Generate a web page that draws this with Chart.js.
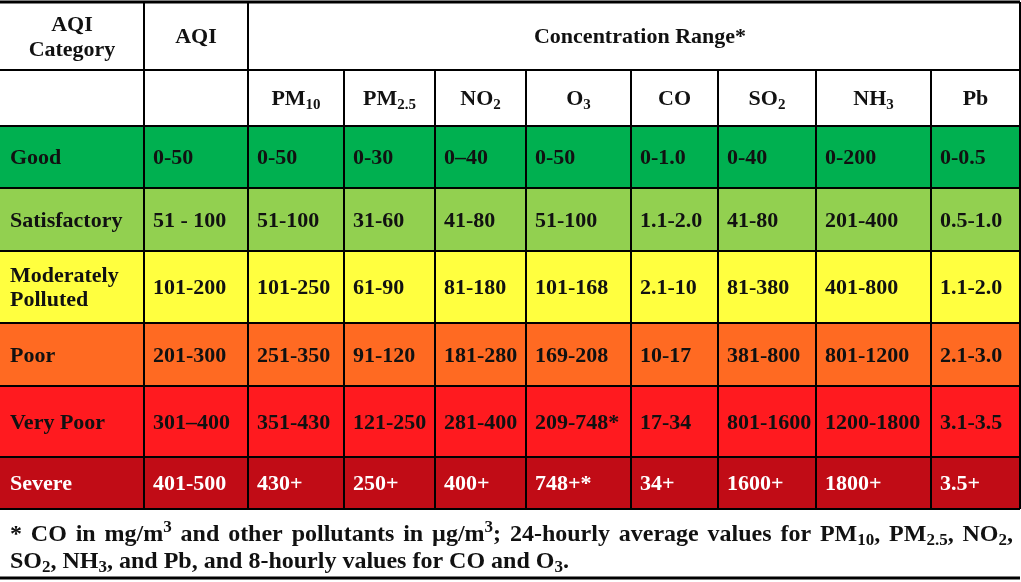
<!DOCTYPE html>
<html>
<head>
<meta charset="utf-8">
<script src="https://cdn.jsdelivr.net/npm/chart.js@4.4.1/dist/chart.umd.min.js"></script>
<style>
  body { margin: 0; background: #fff; }
  #aqiTable { display: block; }
</style>
</head>
<body>
<canvas id="aqiTable" width="1021" height="582"></canvas>
<script>
// table content
var categories = ['Good', 'Satisfactory', 'Moderately\nPolluted', 'Poor', 'Very Poor', 'Severe'];
var aqiRanges = ['0-50', '51 - 100', '101-200', '201-300', '301\u2013400', '401-500'];
var pollutants = ['PM_{10}', 'PM_{2.5}', 'NO_{2}', 'O_{3}', 'CO', 'SO_{2}', 'NH_{3}', 'Pb'];
var pm10 = ['0-50', '51-100', '101-250', '251-350', '351-430', '430+'];
var pm25 = ['0-30', '31-60', '61-90', '91-120', '121-250', '250+'];
var no2 = ['0\u201340', '41-80', '81-180', '181-280', '281-400', '400+'];
var o3 = ['0-50', '51-100', '101-168', '169-208', '209-748*', '748+*'];
var co = ['0-1.0', '1.1-2.0', '2.1-10', '10-17', '17-34', '34+'];
var so2 = ['0-40', '41-80', '81-380', '381-800', '801-1600', '1600+'];
var nh3 = ['0-200', '201-400', '401-800', '801-1200', '1200-1800', '1800+'];
var pb = ['0-0.5', '0.5-1.0', '1.1-2.0', '2.1-3.0', '3.1-3.5', '3.5+'];
var headTitles = ['AQI\nCategory', 'AQI', 'Concentration Range*'];
var footLine1 = '* CO in mg/m^{3} and other pollutants in \u00b5g/m^{3}; 24-hourly average values for PM_{10}, PM_{2.5}, NO_{2},';
var footLine2 = 'SO_{2}, NH_{3}, and Pb, and 8-hourly values for CO and O_{3}.';

// layout (pixel units of the hidden linear scales)
var colEdges = [0, 144, 248, 344, 435, 526, 631, 718, 816, 931, 1020];
var rowEdges = [2, 70, 126, 188, 251, 323, 386, 457, 509];
var footBottom = 578;
var rowColors = ['#00b050', '#92d050', '#ffff3f', '#ff6a22', '#ff1a1f', '#c10c16'];
var textColors = ['#111', '#111', '#111', '#111', '#111', '#fff'];

var columns = [pm10, pm25, no2, o3, co, so2, nh3, pb];
var FONT = '"Liberation Serif", "Times New Roman", serif';

function parseRich(s) {
  var out = [];
  var re = /_\{([^}]*)\}|\^\{([^}]*)\}|[^_^]+/g, m;
  while ((m = re.exec(s)) !== null) {
    if (m[1] !== undefined) out.push({t: m[1], k: 'sub'});
    else if (m[2] !== undefined) out.push({t: m[2], k: 'sup'});
    else out.push({t: m[0], k: 'n'});
  }
  return out;
}

function segFont(k, size) {
  var s = k == 'n' ? size : Math.round(size * 0.7);
  return 'bold ' + s + 'px ' + FONT;
}

function richWidth(c, s, size) {
  var w = 0;
  parseRich(s).forEach(function (p) {
    c.font = segFont(p.k, size);
    w += c.measureText(p.t).width;
  });
  return w;
}

function drawRich(c, s, x, y, size) {
  parseRich(s).forEach(function (p) {
    c.font = segFont(p.k, size);
    var dy = 0;
    if (p.k == 'sub') dy = size * 0.18;
    if (p.k == 'sup') dy = -size * 0.38;
    c.fillText(p.t, x, y + dy);
    x += c.measureText(p.t).width;
  });
}

function drawLines(c, s, x, yc, size, align, lineH) {
  var lines = s.split('\n');
  var y0 = yc - (lines.length - 1) * lineH / 2;
  lines.forEach(function (ln, i) {
    var w = richWidth(c, ln, size);
    var xx = align == 'center' ? x - w / 2 : x;
    drawRich(c, ln, xx, y0 + i * lineH + size * 0.33, size);
  });
}

var tablePlugin = {
  id: 'aqiTable',
  afterDraw: function (chart) {
    var c = chart.ctx;
    var xs = chart.scales.x, ys = chart.scales.y;
    var X = function (v) { return xs.getPixelForValue(v); };
    var Y = function (v) { return ys.getPixelForValue(v); };
    var size = 22;
    c.save();
    c.textBaseline = 'alphabetic';

    // row fills
    for (var r = 0; r < categories.length; r++) {
      c.fillStyle = rowColors[r];
      c.fillRect(X(colEdges[0]), Y(rowEdges[r + 2]), X(colEdges[10]) - X(colEdges[0]), Y(rowEdges[r + 3]) - Y(rowEdges[r + 2]));
    }

    // header text
    c.fillStyle = '#111';
    var hc = (Y(rowEdges[0]) + Y(rowEdges[1])) / 2;
    drawLines(c, headTitles[0], (X(colEdges[0]) + X(colEdges[1])) / 2, hc, size, 'center', 25);
    drawLines(c, headTitles[1], (X(colEdges[1]) + X(colEdges[2])) / 2, hc, size, 'center', 25);
    drawLines(c, headTitles[2], (X(colEdges[2]) + X(colEdges[10])) / 2 + 6, hc, size, 'center', 25);
    var pc = (Y(rowEdges[1]) + Y(rowEdges[2])) / 2;
    pollutants.forEach(function (p, i) {
      drawLines(c, p, (X(colEdges[i + 2]) + X(colEdges[i + 3])) / 2, pc, size, 'center', 25);
    });

    // body text
    for (var r = 0; r < categories.length; r++) {
      var yc = (Y(rowEdges[r + 2]) + Y(rowEdges[r + 3])) / 2;
      c.fillStyle = textColors[r];
      drawLines(c, categories[r], X(colEdges[0]) + 10, yc, size, 'left', 24);
      drawLines(c, aqiRanges[r], X(colEdges[1]) + 9, yc, size, 'left', 24);
      columns.forEach(function (col, i) {
        drawLines(c, col[r], X(colEdges[i + 2]) + 9, yc, size, 'left', 24);
      });
    }

    // grid lines
    c.strokeStyle = '#000';
    c.lineWidth = 2;
    c.beginPath();
    rowEdges.forEach(function (v) {
      c.moveTo(X(colEdges[0]), Y(v));
      c.lineTo(X(colEdges[10]), Y(v));
    });
    colEdges.forEach(function (v, i) {
      if (i == 0) return;
      var top = (i >= 3 && i <= 9) ? rowEdges[1] : rowEdges[0];
      c.moveTo(X(v), Y(top));
      c.lineTo(X(v), Y(rowEdges[8]));
    });
    c.stroke();
    c.lineWidth = 3;
    c.beginPath();
    c.moveTo(X(0), Y(rowEdges[0]));
    c.lineTo(X(colEdges[10]), Y(rowEdges[0]));
    c.moveTo(X(0), Y(footBottom));
    c.lineTo(X(colEdges[10]), Y(footBottom));
    c.stroke();

    // footnote, first line justified
    c.fillStyle = '#111';
    var fs = 24;
    var words = footLine1.split(' ');
    var left = X(10), right = X(1013);
    var tot = 0;
    words.forEach(function (w) { tot += richWidth(c, w, fs); });
    var gap = (right - left - tot) / (words.length - 1);
    var x = left, yb = Y(533) + fs * 0.33;
    words.forEach(function (w) {
      drawRich(c, w, x, yb, fs);
      x += richWidth(c, w, fs) + gap;
    });
    drawRich(c, footLine2, X(10), Y(560) + fs * 0.33, fs);
    c.restore();
  }
};

var chart = new Chart(document.getElementById('aqiTable').getContext('2d'), {
  type: 'bar',
  data: { labels: [], datasets: [] },
  options: {
    responsive: false,
    animation: false,
    layout: { padding: 0 },
    plugins: { legend: { display: false }, tooltip: { enabled: false } },
    scales: {
      x: { type: 'linear', min: 0, max: 1021, offset: false, display: false },
      y: { type: 'linear', min: 0, max: 582, reverse: true, offset: false, display: false }
    }
  },
  plugins: [tablePlugin]
});
</script>
</body>
</html>
